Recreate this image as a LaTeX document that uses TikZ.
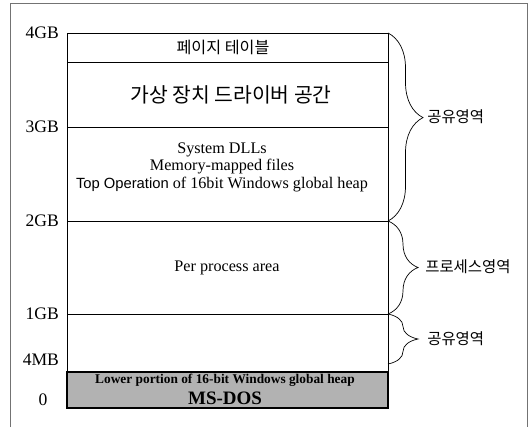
\documentclass[tikz,border=0pt]{standalone}
\usepackage{fontspec}
\setmainfont{Liberation Serif}
\setsansfont{Liberation Sans}
\newfontfamily\kr{Noto Sans CJK KR}
\usetikzlibrary{decorations.pathreplacing}

\tikzset{
  memline/.style={line width=0.6pt},
  addr/.style={anchor=east, inner sep=2pt, font=\fontsize{12.5}{14}\selectfont},
  area/.style={align=center, inner sep=0pt, font=\fontsize{11.5}{12.5}\selectfont},
  krarea/.style={inner sep=0pt, font=\kr\fontsize{#1}{#1}\selectfont},
  dosarea/.style={inner sep=0pt, font=\bfseries\fontsize{#1}{#1}\selectfont},
  part/.style={decorate, decoration={brace, amplitude=#1, aspect=0.5}, line width=0.5pt},
  partlabel/.style={anchor=west, inner sep=0pt, font=\kr\fontsize{11}{12}\selectfont},
}

\begin{document}
\begin{tikzpicture}[x=0.025cm, y=-0.025cm]

  \useasboundingbox (0,0) rectangle (532,427);
  \draw[black!55, line width=0.5pt] (10,427) -- (10,3) -- (527,3) -- (527,427);

  \coordinate (gb4) at (388,33);
  \coordinate (gb2) at (388,221);
  \coordinate (gb1) at (388,314);
  \coordinate (mb4) at (388,364);

  \draw[memline] (67,33) rectangle (388,372);
  \foreach \y in {62, 127, 221, 314}
    \draw[memline] (67,\y) -- (388,\y);
  \draw[line width=1pt, fill=black!30] (67,372) rectangle (388,408);

  \foreach \t/\y in {4GB/33, 3GB/127, 2GB/221, 1GB/314, 4MB/360}
    \node[addr] (addr\t) at (62,\y) {\t};
  \node[inner sep=0pt, font=\fontsize{12.5}{14}\selectfont] (addr0) at (43,400) {0};

  \node[krarea=11.5] (pagetable) at (223,47) {페이지 테이블};
  \node[krarea=14.5] (vxd) at (231,95) {가상 장치 드라이버 공간};
  \node[area] (system) at (222,167) {System DLLs\\Memory-mapped files\\
    {\sffamily\fontsize{10.5}{12.5}\selectfont Top Operation} of 16bit Windows global heap};
  \node[area] (process) at (227,268) {Per process area};
  \node[dosarea=9.5] (lowheap) at (225,380) {Lower portion of 16-bit Windows global heap};
  \node[dosarea=13.5] (msdos) at (225,398) {MS-DOS};

  \draw[part=0.875cm, decoration={aspect=0.45}] (gb4) -- (gb2);
  \draw[part=0.75cm] (gb2) -- (gb1);
  \draw[part=0.75cm] (gb1) -- (mb4);

  \node[partlabel] (shared1) at (427,117) {공유영역};
  \node[partlabel] (proc) at (425,267) {프로세스영역};
  \node[partlabel] (shared2) at (427,339) {공유영역};

\end{tikzpicture}
\end{document}
